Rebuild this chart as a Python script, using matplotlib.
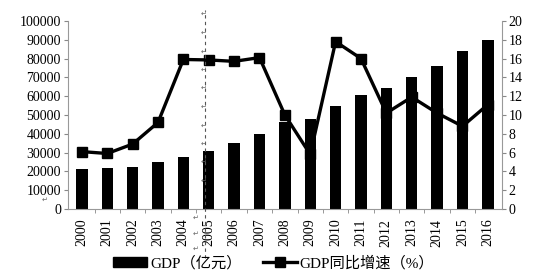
import matplotlib
matplotlib.use("Agg")
import matplotlib.pyplot as plt
from matplotlib.lines import Line2D
from matplotlib.patches import Patch

YEARS = [str(y) for y in range(2000, 2017)]
GDP = [21000, 22000, 22300, 24800, 27800, 31000, 35000, 39700, 46400, 47700,
       54800, 60600, 64500, 70400, 76200, 84200, 89900]
GROWTH = [6.1, 5.9, 6.9, 9.2, 15.9, 15.85, 15.7, 16.1, 10.0, 5.8,
          17.8, 16.0, 10.2, 11.9, 10.2, 8.8, 11.1]

SERIF = ["Liberation Serif", "Noto Sans CJK SC"]
plt.rcParams["font.family"] = SERIF

W, H = 539, 279
fig = plt.figure(figsize=(W / 100, H / 100), dpi=100)
ax = fig.add_axes([0.126, 0.251, 0.805, 0.674])
ax2 = ax.twinx()

x = list(range(len(YEARS)))
ax.bar(x, GDP, width=0.45, color="black", zorder=2)
ax2.plot(x, GROWTH, color="black", linewidth=2.4, marker="s", markersize=6.5, zorder=3)

ax.set_xlim(-0.55, len(YEARS) - 0.45)
ax.set_ylim(0, 100000)
ax2.set_ylim(0, 20)
ax.set_yticks(range(0, 100001, 10000))
ax2.set_yticks(range(0, 21, 2))
ax.set_xticks(x)
ax.set_xticklabels(YEARS, rotation=90, fontsize=10)
ax.set_xticks([i + 0.5 for i in x[:-1]], minor=True)
ax.tick_params(axis="x", which="major", length=0, pad=7)
ax.tick_params(axis="x", which="minor", length=3, color="#888888")
ax.tick_params(axis="y", labelsize=10, length=3, color="#888888", pad=2)
ax2.tick_params(axis="y", labelsize=10, length=3, color="#888888", pad=2)

for a in (ax, ax2):
    a.spines["top"].set_visible(False)
    for s in ("left", "right", "bottom"):
        a.spines[s].set_color("#999999")
        a.spines[s].set_linewidth(0.8)
ax.spines["right"].set_visible(False)
ax2.spines["left"].set_visible(False)
ax2.spines["bottom"].set_visible(False)

# scan artifact: dashed guide with paragraph marks (pixel positions)
fig.add_artist(Line2D([205 / W, 205 / W], [1 - 258 / H, 1 - 10 / H], transform=fig.transFigure,
                      color="#555555", linewidth=0.8, linestyle=(0, (3, 3))))
marks = [(201, 14), (201, 33), (201, 52), (201, 70), (201, 88), (201, 107), (201, 126),
         (201, 144), (201, 162), (201, 181), (193, 218), (193, 234), (193, 249), (42, 200)]
for px, py in marks:
    fig.text(px / W, 1 - py / H, "\u21b5", fontsize=5, color="#666666",
             family="DejaVu Sans", va="center")

handles = [Patch(facecolor="black", edgecolor="black"),
           Line2D([0], [0], color="black", linewidth=2.4, marker="s", markersize=6.5)]
fig.legend(handles, ["GDP（亿元）", "GDP同比增速（%）"], loc="center",
           bbox_to_anchor=(0.508, 0.058), ncol=2, frameon=False, fontsize=11,
           handlelength=2.2, handleheight=0.6, handletextpad=0.2, columnspacing=1.4)

fig.savefig("out.png", dpi=100)
